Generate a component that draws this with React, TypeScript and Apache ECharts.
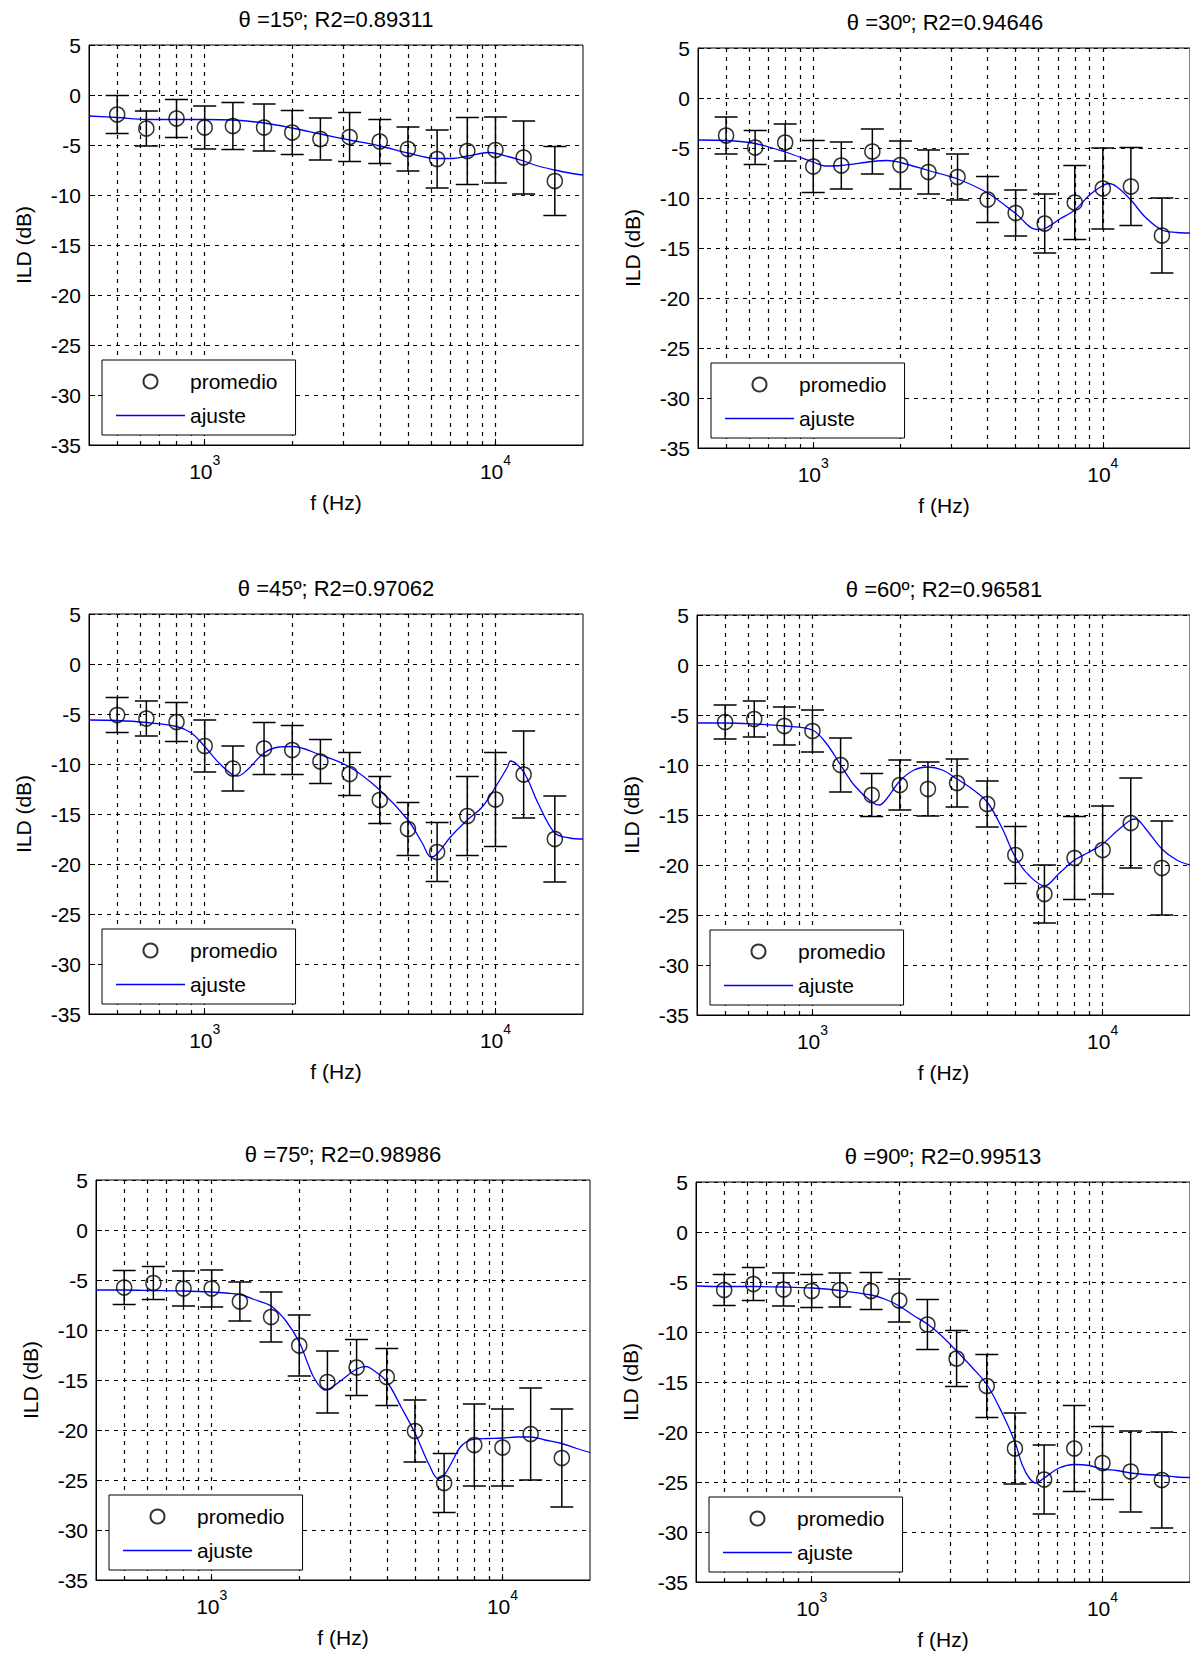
import React, { useEffect, useRef } from "react";
import * as echarts from "echarts";

// ---------- data ----------
const FREQS = [500, 630, 800, 1000, 1250, 1600, 2000, 2500, 3150, 4000, 5000, 6300, 8000, 10000, 12500, 16000];
const GRID_FREQS = [500, 600, 700, 800, 900, 1000, 2000, 3000, 4000, 5000, 6000, 7000, 8000, 9000, 10000];

const TITLES = [
  "θ =15º; R2=0.89311",
  "θ =30º; R2=0.94646",
  "θ =45º; R2=0.97062",
  "θ =60º; R2=0.96581",
  "θ =75º; R2=0.98986",
  "θ =90º; R2=0.99513",
];

// promedio (mean) and half-length of error bars
const mean15 = [-1.95, -3.35, -2.35, -3.25, -3.1, -3.25, -3.75, -4.4, -4.2, -4.65, -5.4, -6.4, -5.6, -5.5, -6.25, -8.6];
const sd15 = [1.9, 1.75, 1.9, 2.15, 2.35, 2.35, 2.2, 2.1, 2.45, 2.2, 2.2, 2.9, 3.35, 3.3, 3.65, 3.45];
const mean30 = [-3.75, -4.95, -4.45, -6.85, -6.75, -5.35, -6.7, -7.4, -7.9, -10.15, -11.5, -12.55, -10.45, -9.05, -8.85, -13.75];
const sd30 = [1.85, 1.7, 1.85, 2.6, 2.35, 2.25, 2.4, 2.2, 2.3, 2.3, 2.3, 2.95, 3.7, 4.05, 3.9, 3.75];
const mean45 = [-5.1, -5.45, -5.8, -8.2, -10.45, -8.45, -8.6, -9.75, -11.0, -13.6, -16.5, -18.8, -15.2, -13.55, -11.05, -17.5];
const sd45 = [1.75, 1.75, 1.95, 2.6, 2.25, 2.6, 2.45, 2.2, 2.15, 2.35, 2.65, 2.95, 3.95, 4.7, 4.35, 4.3];
const mean60 = [-5.7, -5.4, -6.1, -6.6, -10.0, -13.0, -12.0, -12.4, -11.8, -13.9, -19.0, -22.9, -19.3, -18.5, -15.8, -20.3];
const sd60 = [1.7, 1.8, 1.9, 2.1, 2.7, 2.15, 2.5, 2.7, 2.4, 2.3, 2.85, 2.9, 4.15, 4.4, 4.5, 4.7];
const mean75 = [-5.75, -5.3, -5.85, -5.85, -7.15, -8.7, -11.55, -15.2, -13.75, -14.7, -20.1, -25.3, -21.5, -21.75, -20.4, -22.8];
const sd75 = [1.7, 1.65, 1.75, 1.85, 1.95, 2.5, 3.05, 3.1, 2.8, 2.85, 3.1, 2.95, 4.1, 3.85, 4.6, 4.9];
const mean90 = [-5.8, -5.2, -5.75, -5.9, -5.8, -5.9, -6.85, -9.25, -12.65, -15.4, -21.65, -24.75, -21.65, -23.1, -23.95, -24.8];
const sd90 = [1.55, 1.65, 1.65, 1.65, 1.7, 1.85, 2.15, 2.5, 2.8, 3.15, 3.55, 3.45, 4.3, 3.65, 4.05, 4.8];

// ajuste (fitted curve)
const fitF15 = [400, 500, 630, 800, 1000, 1250, 1600, 2000, 2500, 3150, 4000, 5000, 6300, 7100, 8000, 9500, 11200, 12500, 14000, 16000, 18000, 20000];
const fitV15 = [-2.1, -2.25, -2.45, -2.45, -2.45, -2.5, -2.8, -3.3, -3.9, -4.5, -5.1, -5.8, -6.35, -6.35, -6.1, -5.75, -6.2, -6.6, -7.1, -7.5, -7.8, -8.0];
const fitF30 = [400, 500, 630, 800, 1000, 1100, 1250, 1600, 1800, 2000, 2500, 3150, 4000, 5000, 5900, 6300, 7100, 8000, 9000, 10000, 10500, 11200, 12500, 14000, 16000, 18000, 20000];
const fitV30 = [-4.2, -4.25, -4.55, -5.4, -6.4, -6.8, -6.75, -6.35, -6.25, -6.45, -7.25, -8.1, -9.5, -11.55, -13.15, -13.05, -12.1, -11.2, -9.7, -8.75, -8.55, -8.9, -10.2, -11.9, -13.2, -13.45, -13.5];
const fitF45 = [400, 500, 630, 800, 900, 1000, 1120, 1250, 1300, 1400, 1600, 1800, 2000, 2500, 3150, 4000, 5000, 5600, 6000, 6300, 7000, 8000, 9000, 10000, 11000, 11250, 12500, 14000, 16000, 18000, 20000];
const fitV45 = [-5.6, -5.65, -5.85, -6.25, -6.9, -8.25, -9.9, -11.1, -11.2, -10.6, -8.9, -8.3, -8.25, -9.1, -10.3, -12.6, -15.6, -17.9, -19.3, -19.0, -17.3, -15.6, -14.3, -12.3, -10.3, -9.7, -10.8, -13.9, -16.9, -17.4, -17.5];
const fitF60 = [400, 500, 630, 800, 1000, 1120, 1250, 1400, 1600, 1700, 1800, 2000, 2240, 2500, 2800, 3150, 3550, 4000, 4500, 5000, 5600, 6300, 7100, 8000, 9000, 10000, 11200, 12500, 13000, 14000, 16000, 18000, 20000];
const fitV60 = [-5.8, -5.8, -5.9, -6.1, -6.5, -7.9, -10.0, -12.1, -13.7, -14.0, -13.4, -11.6, -10.5, -10.2, -10.5, -11.4, -12.4, -13.7, -16.3, -19.2, -21.1, -22.1, -20.8, -19.5, -18.7, -17.9, -16.6, -15.5, -15.4, -16.3, -18.4, -19.5, -20.0];
const fitF75 = [400, 500, 630, 800, 1000, 1120, 1250, 1400, 1600, 1800, 2000, 2150, 2250, 2450, 2800, 3150, 3400, 3550, 4000, 4500, 5000, 5600, 6000, 6300, 6700, 7100, 7500, 8000, 9000, 10000, 11200, 12500, 14000, 16000, 18000, 20000];
const fitV75 = [-6.0, -6.0, -6.05, -6.1, -6.2, -6.3, -6.45, -6.95, -7.6, -9.1, -11.2, -13.5, -14.8, -16.0, -15.0, -13.9, -13.65, -13.9, -15.15, -17.8, -20.3, -23.5, -24.85, -24.5, -23.2, -21.85, -21.2, -20.9, -20.85, -20.8, -20.7, -20.7, -21.0, -21.35, -21.85, -22.25];
const fitF90 = [400, 500, 630, 800, 1000, 1250, 1600, 1800, 2000, 2240, 2500, 2800, 3150, 3550, 4000, 4500, 5000, 5300, 5600, 5900, 6300, 7100, 8000, 9000, 10000, 11200, 12500, 14000, 16000, 18000, 20000];
const fitV90 = [-5.4, -5.45, -5.45, -5.5, -5.6, -5.85, -6.3, -6.75, -7.4, -8.35, -9.2, -10.4, -11.9, -13.5, -15.25, -18.0, -21.0, -23.3, -24.6, -25.1, -24.6, -23.6, -23.25, -23.35, -23.7, -23.85, -24.1, -24.25, -24.35, -24.5, -24.55];

const MEANS = [mean15, mean30, mean45, mean60, mean75, mean90];
const SDS = [sd15, sd30, sd45, sd60, sd75, sd90];
const FIT_F = [fitF15, fitF30, fitF45, fitF60, fitF75, fitF90];
const FIT_V = [fitV15, fitV30, fitV45, fitV60, fitV75, fitV90];

// ---------- layout ----------
const FONT = '"Liberation Sans", Arial, Helvetica, sans-serif';
const PW = 494;
const PH = 400;
const LAYOUT = [
  { l: 89, t: 45 },
  { l: 698, t: 48 },
  { l: 89, t: 614 },
  { l: 697, t: 615 },
  { l: 96, t: 1180 },
  { l: 696, t: 1182 },
];

const renderErr = (params: any, api: any) => {
  const f = api.value(0);
  const lo = api.value(1);
  const hi = api.value(2);
  const a = api.coord([f, lo]);
  const b = api.coord([f, hi]);
  const hw = 11.5;
  const st = { stroke: "#000", lineWidth: 1.5 };
  return {
    type: "group",
    children: [
      { type: "line", shape: { x1: a[0], y1: a[1], x2: b[0], y2: b[1] }, style: st },
      { type: "line", shape: { x1: a[0] - hw, y1: a[1], x2: a[0] + hw, y2: a[1] }, style: st },
      { type: "line", shape: { x1: b[0] - hw, y1: b[1], x2: b[0] + hw, y2: b[1] }, style: st },
    ],
  };
};

function buildOption(): any {
  const grid: any[] = [];
  const xAxis: any[] = [];
  const yAxis: any[] = [];
  const series: any[] = [];
  const legend: any[] = [];
  const title: any[] = [];
  const txt = { color: "#000", fontFamily: FONT, fontSize: 21 };
  const dash = { color: "#000", type: [4, 5], width: 1.2 };

  LAYOUT.forEach((p, i) => {
    grid.push({ left: p.l, top: p.t, width: PW, height: PH, show: true, borderColor: "#000", borderWidth: 1, backgroundColor: "transparent" });
    xAxis.push({
      type: "log",
      logBase: 10,
      gridIndex: i,
      min: 400,
      max: 20000,
      axisLine: { show: true, onZero: false, lineStyle: { color: "#000", width: 1 } },
      axisTick: { show: true, inside: true, length: 6, lineStyle: { color: "#000" } },
      splitLine: { show: false },
      axisLabel: {
        show: true,
        margin: 8,
        showMinLabel: false,
        showMaxLabel: false,
        formatter: (v: number) => {
          const e = Math.log10(v);
          if (Math.abs(e - Math.round(e)) < 1e-6) return "{b|10}{s|" + Math.round(e) + "}";
          return "";
        },
        rich: {
          b: { fontSize: 21, fontFamily: FONT, color: "#000", verticalAlign: "bottom", padding: [8, 0, 0, 0] },
          s: { fontSize: 14, fontFamily: FONT, color: "#000", verticalAlign: "top" },
        },
      },
      name: "f (Hz)",
      nameLocation: "middle",
      nameGap: 47,
      nameTextStyle: txt,
    });
    yAxis.push({
      type: "value",
      gridIndex: i,
      min: -35,
      max: 5,
      interval: 5,
      axisLine: { show: true, onZero: false, lineStyle: { color: "#000", width: 1 } },
      axisTick: { show: true, inside: true, length: 6, lineStyle: { color: "#000" } },
      splitLine: { show: true, lineStyle: dash },
      axisLabel: { margin: 8, ...txt },
      name: "ILD (dB)",
      nameLocation: "middle",
      nameGap: 55,
      nameRotate: 90,
      nameTextStyle: txt,
    });

    const mean = MEANS[i];
    const sd = SDS[i];
    series.push({
      name: "promedio",
      type: "scatter",
      xAxisIndex: i,
      yAxisIndex: i,
      symbol: "circle",
      symbolSize: 15,
      itemStyle: { color: "rgba(0,0,0,0)", borderColor: "#000", borderWidth: 1.5 },
      data: FREQS.map((f, j) => [f, mean[j]]),
      z: 5,
      silent: true,
    });
    series.push({
      name: "ajuste",
      type: "line",
      xAxisIndex: i,
      yAxisIndex: i,
      showSymbol: false,
      symbol: "none",
      smooth: 0.35,
      lineStyle: { color: "#0000ff", width: 1.3 },
      itemStyle: { color: "#0000ff" },
      data: FIT_F[i].map((f, j) => [f, FIT_V[i][j]]),
      z: 3,
      silent: true,
      markLine: {
        silent: true,
        symbol: ["none", "none"],
        label: { show: false },
        lineStyle: dash,
        emphasis: { disabled: true },
        z: 1,
        data: GRID_FREQS.map((f) => ({ xAxis: f })),
      },
    });
    series.push({
      name: "desviación",
      type: "custom",
      xAxisIndex: i,
      yAxisIndex: i,
      renderItem: renderErr,
      encode: { x: 0, y: [1, 2] },
      data: FREQS.map((f, j) => [f, mean[j] - sd[j], mean[j] + sd[j]]),
      z: 4,
      silent: true,
    });

    legend.push({
      orient: "vertical",
      left: p.l + 13,
      top: p.t + 315,
      padding: [11, 18, 9, 14],
      itemWidth: 69,
      itemHeight: 14,
      itemGap: 13,
      borderColor: "#000",
      borderWidth: 1,
      borderRadius: 0,
      backgroundColor: "#fff",
      selectedMode: false,
      textStyle: txt,
      data: [
        { name: "promedio" },
        { name: "ajuste", icon: "path://M0,0H69V1.3H0Z" },
      ],
      z: 10,
    });

    title.push({
      text: TITLES[i],
      left: p.l + PW / 2,
      top: p.t - 38,
      textAlign: "center",
      padding: 0,
      textStyle: { fontSize: 22, fontWeight: "normal", color: "#000", fontFamily: FONT, lineHeight: 24 },
    });
  });

  return { animation: false, backgroundColor: "#fff", grid, xAxis, yAxis, series, legend, title };
}

export default function App() {
  const ref = useRef<HTMLDivElement>(null);
  useEffect(() => {
    document.body.style.margin = "0";
    if (!ref.current) return;
    const chart = echarts.init(ref.current, null, { renderer: "svg" });
    chart.setOption(buildOption());
    return () => chart.dispose();
  }, []);
  return <div ref={ref} style={{ position: "absolute", left: 0, top: 0, width: 1190, height: 1654 }} />;
}
